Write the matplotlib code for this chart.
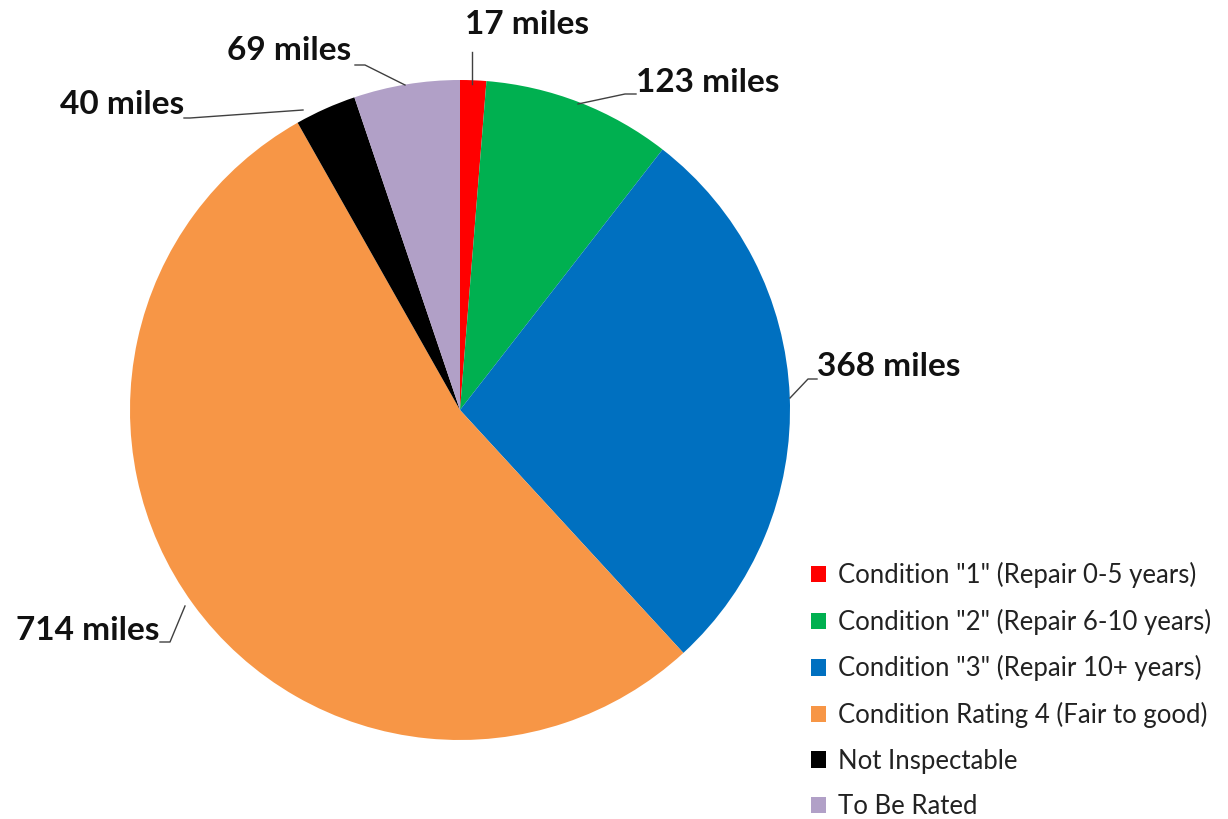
import matplotlib
matplotlib.use("Agg")
import matplotlib.pyplot as plt

categories = ['Condition "1" (Repair 0-5 years)',
              'Condition "2" (Repair 6-10 years)',
              'Condition "3" (Repair 10+ years)',
              'Condition Rating 4 (Fair to good)',
              'Not Inspectable',
              'To Be Rated']
miles = [17, 123, 368, 714, 40, 69]
labels = [f"{m} miles" for m in miles]
colors = ['#FF0000', '#00B050', '#0070C0', '#F79646', '#000000', '#B1A0C7']

W, H = 1228, 819
fig = plt.figure(figsize=(W / 100, H / 100), dpi=100)
ax = fig.add_axes([0, 0, 1, 1])

cx, cy, R = 460, H - 410, 330
wedges, _ = ax.pie(miles, colors=colors, startangle=90, counterclock=False,
                   center=(cx, cy), radius=R, frame=True,
                   wedgeprops=dict(linewidth=0))
ax.set_xlim(0, W)
ax.set_ylim(0, H)
ax.set_aspect('equal')
ax.axis('off')

def P(x, y):
    return (x, H - y)

# label text positions (px), alignment, leader line points (px)
label_specs = [
    ((465, 25), 'left', [(472, 84), (472, 52)]),
    ((636, 82), 'left', [(578, 104), (625, 94), (636, 94)]),
    ((817, 367), 'left', [(790, 398), (808, 379), (817, 379)]),
    ((159, 630), 'right', [(185, 606), (170, 642), (160, 642)]),
    ((184, 105), 'right', [(303, 110), (190, 118), (184, 118)]),
    ((351, 50), 'right', [(405, 85), (365, 65), (355, 65)]),
]
font = 'Lato'
for lab, (pos, ha, pts) in zip(labels, label_specs):
    ax.text(*P(*pos), lab, ha=ha, va='center', fontsize=24, fontweight='bold',
            family=font, color='#111111')
    xs = [p[0] for p in pts]
    ys = [H - p[1] for p in pts]
    ax.plot(xs, ys, color='#404040', lw=1)

leg = ax.legend(wedges, categories, loc='upper left',
                bbox_to_anchor=(811 / W, 1 - 562 / H),
                frameon=False, prop=dict(family=font, size=18.5),
                handlelength=0.6, handleheight=0.6, handletextpad=0.45,
                labelspacing=0.8, borderaxespad=0, borderpad=0)
for t in leg.get_texts():
    t.set_color('#222222')

fig.savefig('out.png', dpi=100)
